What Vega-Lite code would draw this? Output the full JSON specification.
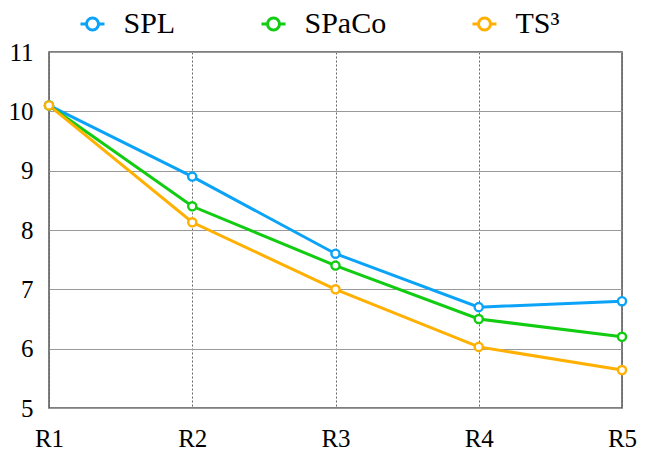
{
  "$schema": "https://vega.github.io/schema/vega-lite/v6.json",
  "width": 573,
  "height": 356,
  "autosize": "none",
  "padding": {"left": 49, "top": 52, "right": 28, "bottom": 43},
  "config": {
    "view": {"stroke": "#555555", "strokeWidth": 1.5},
    "font": "Liberation Serif"
  },
  "data": {
    "values": [
      {"round": "R1", "method": "SPL", "value": 10.1},
      {"round": "R2", "method": "SPL", "value": 8.9},
      {"round": "R3", "method": "SPL", "value": 7.6},
      {"round": "R4", "method": "SPL", "value": 6.7},
      {"round": "R5", "method": "SPL", "value": 6.8},
      {"round": "R1", "method": "SPaCo", "value": 10.1},
      {"round": "R2", "method": "SPaCo", "value": 8.4},
      {"round": "R3", "method": "SPaCo", "value": 7.4},
      {"round": "R4", "method": "SPaCo", "value": 6.5},
      {"round": "R5", "method": "SPaCo", "value": 6.2},
      {"round": "R1", "method": "TS³", "value": 10.1},
      {"round": "R2", "method": "TS³", "value": 8.13},
      {"round": "R3", "method": "TS³", "value": 7.0},
      {"round": "R4", "method": "TS³", "value": 6.03},
      {"round": "R5", "method": "TS³", "value": 5.64}
    ]
  },
  "encoding": {
    "x": {
      "field": "round",
      "type": "ordinal",
      "scale": {"type": "point", "padding": 0},
      "axis": {
        "title": null,
        "labelAngle": 0,
        "labelFont": "Liberation Serif",
        "labelFontSize": 25,
        "labelColor": "black",
        "labelPadding": 18,
        "ticks": false,
        "domain": false,
        "grid": true,
        "gridColor": "#666666",
        "gridDash": [2, 2],
        "gridWidth": 1
      }
    },
    "y": {
      "field": "value",
      "type": "quantitative",
      "scale": {"domain": [5, 11], "nice": false, "zero": false},
      "axis": {
        "title": null,
        "values": [5, 6, 7, 8, 9, 10, 11],
        "labelFont": "Liberation Serif",
        "labelFontSize": 25,
        "labelColor": "black",
        "labelPadding": 16,
        "ticks": false,
        "domain": false,
        "grid": true,
        "gridColor": "#999999",
        "gridWidth": 1.2
      }
    },
    "color": {
      "field": "method",
      "type": "nominal",
      "scale": {
        "domain": ["SPL", "SPaCo", "TS³"],
        "range": ["#0aa3f7", "#11cc11", "#ffb000"]
      },
      "legend": {
        "orient": "none",
        "legendX": 28.5,
        "legendY": -43,
        "direction": "horizontal",
        "title": null,
        "padding": 0,
        "symbolType": "M-1,0H-0.5M0.5,0H1M-0.5,0A0.5,0.5,0,1,1,0.5,0A0.5,0.5,0,1,1,-0.5,0",
        "symbolSize": 576,
        "symbolStrokeWidth": 3,
        "symbolFillColor": "white",
        "symbolOpacity": 1,
        "labelFont": "Liberation Serif",
        "labelFontSize": 30,
        "labelColor": "black",
        "labelOffset": 16,
        "columnPadding": 80,
        "encode": {"symbols": {"update": {"fill": {"value": "white"}, "opacity": {"value": 1}}}}
      }
    }
  },
  "layer": [
    {"mark": {"type": "line", "strokeWidth": 3}},
    {"mark": {"type": "point", "filled": false, "fill": "white", "fillOpacity": 1, "opacity": 1, "strokeWidth": 2.4, "size": 66}}
  ]
}
